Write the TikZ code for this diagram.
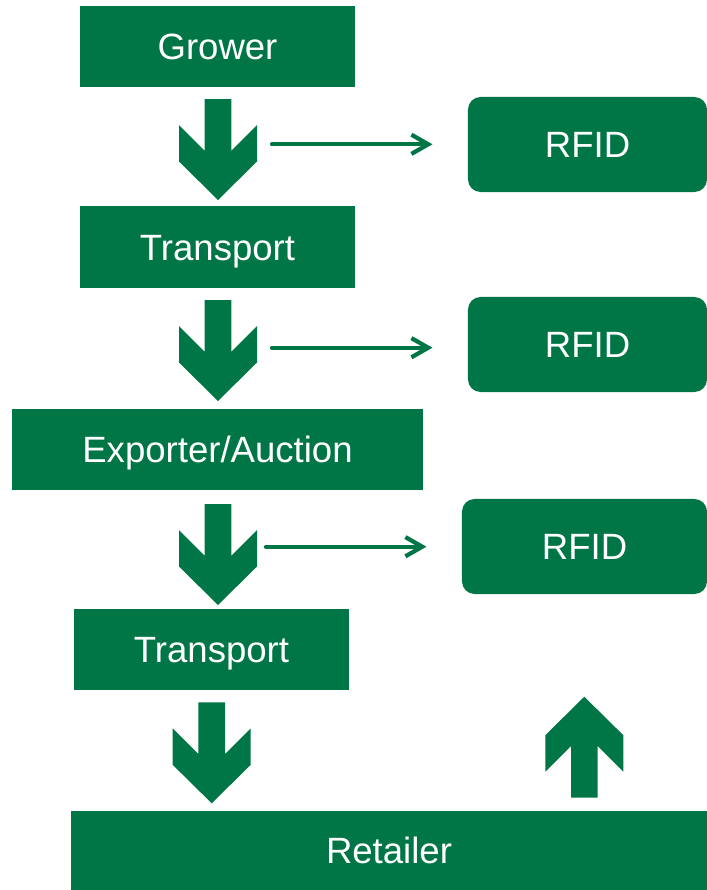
\documentclass[tikz,border=0pt]{standalone}
\usepackage{fontspec}
\setmainfont{Liberation Sans}
\usetikzlibrary{arrows.meta, positioning, calc}
\definecolor{leaf}{RGB}{0,118,70}

\tikzset{
	bigarrow/.pic={
		\fill[leaf] (0,0) -- (39,-38.5) -- (39,-75) -- (13.3,-49.3) -- (13.3,-101)
			-- (-13.3,-101) -- (-13.3,-49.3) -- (-39,-75) -- (-39,-38.5) -- cycle;
	}
}

\begin{document}
\begin{tikzpicture}[x=0.025cm, y=-0.025cm]
	\tikzstyle{stage}=[fill=leaf, text=white, inner sep=0pt, minimum height=2.025cm, text height=18.6pt, text depth=0pt, font=\fontsize{26}{31}\selectfont];
	\tikzstyle{tag}=[stage, rounded corners=9pt, minimum height=2.375cm];
	\tikzstyle{link}=[draw=leaf, line width=3pt, line cap=round, shorten >=0.88cm, -{Straight Barb[length=4.2mm, width=4.8mm]}];

	\useasboundingbox (0,0) rectangle (707,890);

	% chain of stages
	\node[stage, minimum width=6.875cm] (grower) at (217.5,46.5) {Grower};
	\node[stage, minimum width=6.875cm] (transport1) at (217.5,247) {Transport};
	\node[stage, minimum width=10.275cm] (exporter) at (217.5,449.5) {Exporter/Auction};
	\node[stage, minimum width=6.875cm] (transport2) at (211.5,649.5) {Transport};
	\node[stage, minimum width=15.9cm, minimum height=1.975cm] (retailer) at (389,850.5) {Retailer};

	% tags
	\node[tag, minimum width=5.975cm] (rfid1) at (587.5,144.5) {RFID};
	\node[tag, minimum width=5.975cm] (rfid2) at (587.5,344.5) {RFID};
	\node[tag, minimum width=6.125cm] (rfid3) at (584.5,546.5) {RFID};

	% block arrows
	\pic at (218,200) {bigarrow};
	\pic at (218,401) {bigarrow};
	\pic at (218,605) {bigarrow};
	\pic at (211.7,803.3) {bigarrow};
	\pic[rotate=180] at (584.3,696.7) {bigarrow};

	\coordinate (s1) at (272,144.3);
	\coordinate (s2) at (272,347.7);
	\coordinate (s3) at (266,546.7);
	\draw[link] (s1) -- (s1 -| rfid1.west);
	\draw[link] (s2) -- (s2 -| rfid2.west);
	\draw[link] (s3) -- (s3 -| rfid3.west);
\end{tikzpicture}
\end{document}
